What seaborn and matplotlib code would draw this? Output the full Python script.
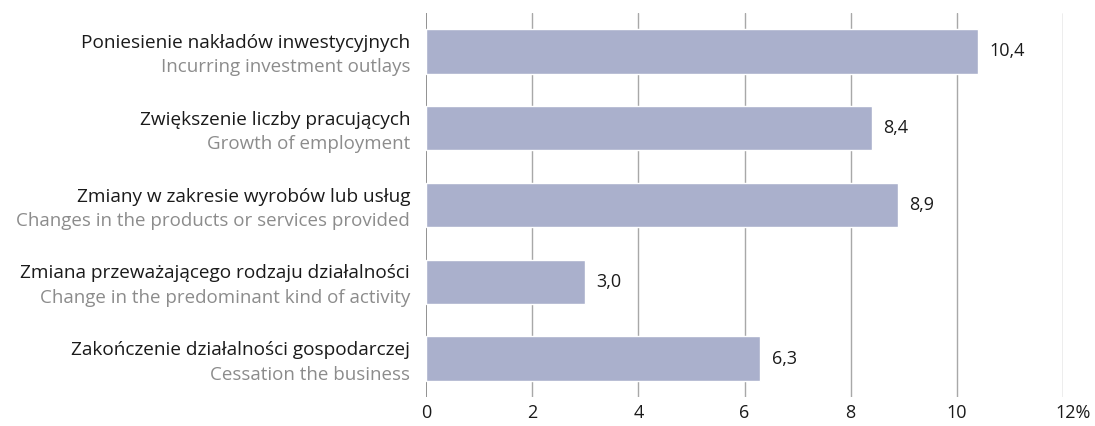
import matplotlib
matplotlib.use("Agg")
import matplotlib.pyplot as plt
import matplotlib.transforms as mtransforms
import seaborn as sns
import pandas as pd

labels_pl = [
    "Poniesienie nakładów inwestycyjnych",
    "Zwiększenie liczby pracujących",
    "Zmiany w zakresie wyrobów lub usług",
    "Zmiana przeważającego rodzaju działalności",
    "Zakończenie działalności gospodarczej",
]
labels_en = [
    "Incurring investment outlays",
    "Growth of employment",
    "Changes in the products or services provided",
    "Change in the predominant kind of activity",
    "Cessation the business",
]
values = [10.4, 8.4, 8.9, 3.0, 6.3]
x_ticks = [0, 2, 4, 6, 8, 10, 12]
x_tick_labels = ["0", "2", "4", "6", "8", "10", "12%"]

sns.set_theme(style="white")
plt.rcParams["font.family"] = ["Open Sans", "DejaVu Sans"]

df = pd.DataFrame({"category": labels_pl, "value": values})

fig = plt.figure(figsize=(10.95, 4.26), dpi=100)
ax = fig.add_axes([426 / 1095, 29 / 426, (1063 - 426) / 1095, (397 - 13) / 426])

sns.barplot(data=df, x="value", y="category", orient="h", color="#aab0cc",
            saturation=1, width=0.58, ax=ax)

ax.set_xlim(0, 12)
ax.set_ylim(4.5, -0.5)
ax.set_xticks(x_ticks)
ax.set_xticklabels(x_tick_labels, fontsize=13, color="#1a1a1a")
ax.tick_params(axis="x", length=0, pad=5)
ax.set_yticks([])
ax.set_xlabel("")
ax.set_ylabel("")
for s in ax.spines.values():
    s.set_visible(False)

# keep the number of the last tick centred on its gridline, with "%" trailing
last = ax.get_xticklabels()[-1]
last.set_transform(last.get_transform() +
                   mtransforms.ScaledTranslation(7 / 72, 0, fig.dpi_scale_trans))

# vertical gridlines behind the bars
for t in x_ticks:
    ax.axvline(t, color="#7f7f7f" if t == 0 else "#a8a8a8",
               lw=1.2 if t == 0 else 1.0, zorder=0)

# two-line category labels to the left of the axis
trans = mtransforms.blended_transform_factory(ax.transAxes, ax.transData)
for i, (pl, en) in enumerate(zip(labels_pl, labels_en)):
    ax.annotate(pl, xy=(0, i), xycoords=trans, xytext=(-11.5, 6),
                textcoords="offset points", ha="right", va="center",
                fontsize=13.7, color="#1a1a1a")
    ax.annotate(en, xy=(0, i), xycoords=trans, xytext=(-11.5, -11.5),
                textcoords="offset points", ha="right", va="center",
                fontsize=13.5, color="#8c8c8c")

# value labels at bar ends
for i, v in enumerate(values):
    ax.annotate(f"{v:.1f}".replace(".", ","), xy=(v, i), xytext=(8, 0),
                textcoords="offset points", ha="left", va="center",
                fontsize=13, color="#1a1a1a")

fig.savefig("out.png", dpi=100)
